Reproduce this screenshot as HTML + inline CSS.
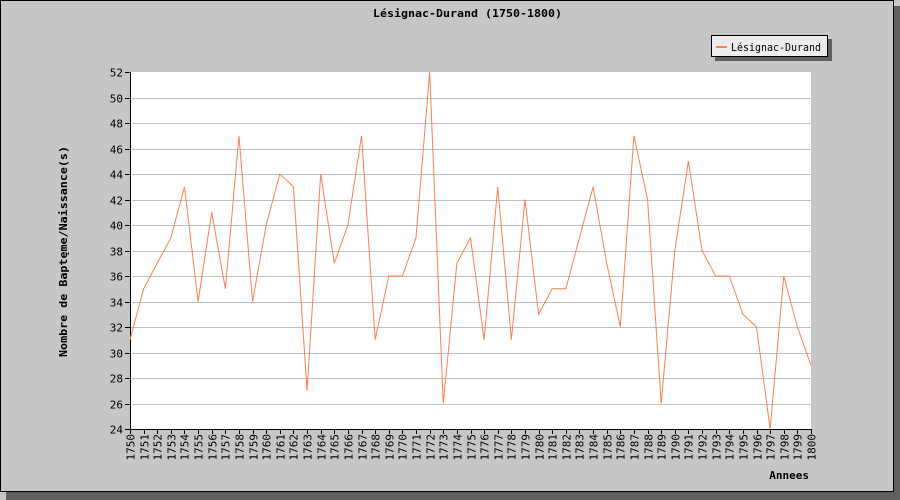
<!DOCTYPE html>
<html><head><meta charset="utf-8"><style>
body{margin:0;width:900px;height:500px;overflow:hidden;background:#c6c6c6}
svg{display:block}
text{font-family:"DejaVu Sans Mono","Liberation Mono",monospace;font-size:11px;fill:#000}
</style></head><body>
<svg width="900" height="500">
<rect x="6" y="6" width="894" height="494" fill="#606060"/>
<rect x="0.5" y="0.5" width="893" height="491" fill="#c6c6c6" stroke="#000"/>
<text x="373" y="17" textLength="189" lengthAdjust="spacingAndGlyphs" font-weight="bold">Lésignac-Durand (1750-1800)</text>
<rect x="715" y="39" width="117" height="22" fill="#606060"/>
<rect x="711.5" y="35.5" width="116" height="21" fill="#ececec" stroke="#000"/>
<line x1="716" y1="47" x2="727" y2="47" stroke="#ff7f50" stroke-width="2"/>
<text x="731" y="51" textLength="90" lengthAdjust="spacingAndGlyphs">Lésignac-Durand</text>
<rect x="130" y="72" width="681" height="357" fill="#fff"/>
<g id="grid"></g><g id="axes"></g>
<polyline id="series" fill="none" stroke="#ff7f50" stroke-width="1"/>
<text transform="translate(67,357) rotate(-90)" textLength="211" lengthAdjust="spacingAndGlyphs" font-weight="bold">Nombre de Baptęme/Naissance(s)</text>
<text x="809" y="479" text-anchor="end" font-weight="bold">Annees</text>
</svg>
<script>
const years=[];for(let y=1750;y<=1800;y++)years.push(y);
const values=[31,35,37,39,43,34,41,35,47,34,40,44,43,27,44,37,40,47,31,36,36,39,52,26,37,39,31,43,31,42,33,35,35,39,43,37,32,47,42,26,38,45,38,36,36,33,32,24,36,32,29];
const yTicks=[24,26,28,30,32,34,36,38,40,42,44,46,48,50,52];
const NS='http://www.w3.org/2000/svg';
const X0=130,X1=811,Y0=429,Y1=72,YMIN=24,YMAX=52;
const xs=i=>X0+(X1-X0)*i/(years.length-1);
const ys=v=>Y0-(Y0-Y1)*(v-YMIN)/(YMAX-YMIN);
function mk(t,a,p){const e=document.createElementNS(NS,t);for(const k in a)e.setAttribute(k,a[k]);p.appendChild(e);return e;}
const grid=document.getElementById('grid'),axes=document.getElementById('axes');
yTicks.forEach(v=>{const y=Math.round(ys(v))+0.5;
 if(v>YMIN&&v<YMAX){const g=mk('line',{x1:X0,x2:X1,y1:y,y2:y,stroke:'#c0c0c0'},grid);
 
 }
 const t=mk('line',{x1:125,x2:X0,y1:y,y2:y,stroke:'#000'},axes);
 
 
 const l=mk('text',{x:123,y:y+4,'text-anchor':'end'},axes);l.textContent=v;
 
 });
const ya=mk('line',{x1:X0+0.5,x2:X0+0.5,y1:Y1,y2:Y0,stroke:'#000'},axes);


const xa=mk('line',{x1:X0,x2:X1+1,y1:Y0+0.5,y2:Y0+0.5,stroke:'#000'},axes);


years.forEach((yr,i)=>{const x=Math.round(xs(i))+0.5;
 const t=mk('line',{x1:x,x2:x,y1:Y0,y2:Y0+5,stroke:'#000'},axes);
 
 
 const l=mk('text',{transform:`translate(${x+4},434) rotate(-90)`,'text-anchor':'end'},axes);l.textContent=yr;
 
 });
document.getElementById('series').setAttribute('points',values.map((v,i)=>xs(i)+','+ys(v)).join(' '));
</script>
</body></html>
